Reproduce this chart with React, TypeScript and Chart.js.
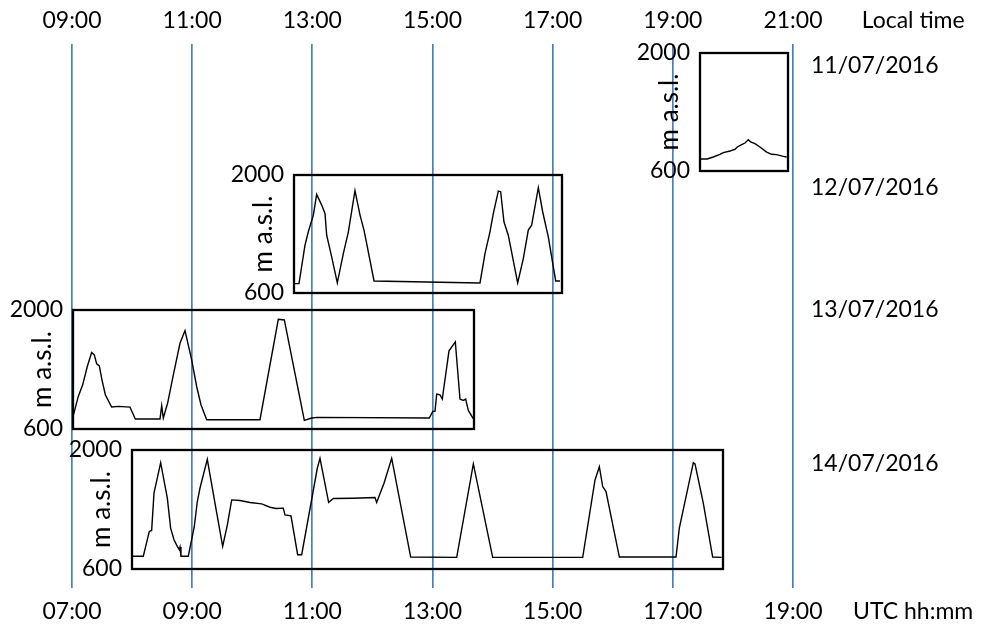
import { useEffect, useRef } from "react";
import { Chart, registerables } from "chart.js";
Chart.register(...registerables);

// ---------- data ----------
const utcTicks = [7, 9, 11, 13, 15, 17, 19];
const localOffsetHours = 2;
const axisNameTick = 21;
const utcAxisLabel = "UTC hh:mm";
const localAxisLabel = "Local time";
const altitudeTicks = [600, 2000];
const altitudeUnit = "m a.s.l.";
const dateLabels = ["11/07/2016", "12/07/2016", "13/07/2016", "14/07/2016"];

// time windows (UTC hours) of each day's inset
const window11 = [17.453, 18.918];
const window12 = [10.695, 15.156];
const window13 = [7.017, 13.691];
const window14 = [7.999, 17.835];

const flight11Time = [17.464, 17.574, 17.674, 17.785, 17.841, 17.952, 18.035, 18.074, 18.146, 18.202, 18.257, 18.296, 18.368, 18.451, 18.562, 18.646, 18.729, 18.84, 18.895];
const flight11Alt = [742, 742, 766, 798, 818, 837, 857, 885, 912, 932, 972, 944, 924, 885, 825, 798, 794, 774, 766];

const flight12Time = [10.712, 10.778, 10.878, 10.933, 11.017, 11.072, 11.156, 11.211, 11.239, 11.322, 11.416, 11.516, 11.6, 11.71, 11.794, 11.86, 11.905, 12.027, 13.791, 13.874, 13.957, 14.013, 14.096, 14.135, 14.19, 14.262, 14.418, 14.512, 14.595, 14.651, 14.762, 14.834, 14.928, 15.051, 15.123];
const flight12Alt = [711, 711, 1167, 1326, 1524, 1770, 1643, 1544, 1286, 1028, 719, 1068, 1326, 1814, 1524, 1346, 1187, 743, 719, 1068, 1326, 1544, 1810, 1802, 1445, 1286, 719, 1008, 1346, 1405, 1849, 1564, 1266, 743, 743];

const flight13Time = [7.011, 7.105, 7.178, 7.255, 7.327, 7.372, 7.411, 7.455, 7.499, 7.555, 7.66, 7.771, 7.965, 8.054, 8.465, 8.493, 8.52, 8.592, 8.687, 8.798, 8.881, 8.992, 9.075, 9.147, 9.242, 10.129, 10.434, 10.534, 10.867, 10.99, 11.083, 12.947, 13.004, 13.042, 13.07, 13.125, 13.163, 13.275, 13.38, 13.458, 13.513, 13.553, 13.596, 13.679];
const flight13Alt = [729, 983, 1120, 1335, 1499, 1472, 1366, 1343, 1179, 1003, 858, 866, 858, 717, 717, 874, 729, 905, 1237, 1609, 1758, 1413, 1100, 885, 709, 709, 1890, 1883, 702, 729, 737, 729, 807, 807, 1011, 1003, 952, 1519, 1625, 952, 936, 952, 819, 721];

const flight14Time = [7.993, 8.187, 8.287, 8.326, 8.365, 8.476, 8.587, 8.642, 8.698, 8.753, 8.786, 8.798, 8.814, 8.936, 9.036, 9.086, 9.13, 9.252, 9.38, 9.508, 9.586, 9.658, 9.796, 9.963, 10.157, 10.296, 10.395, 10.517, 10.545, 10.645, 10.756, 10.823, 11.083, 11.128, 11.272, 11.35, 11.683, 12.043, 12.071, 12.193, 12.321, 12.637, 13.403, 13.68, 14.002, 15.5, 15.705, 15.777, 15.833, 15.888, 16.11, 17.053, 17.108, 17.341, 17.369, 17.507, 17.663, 17.813];
const flight14Alt = [750, 750, 1042, 1054, 1492, 1851, 1433, 1081, 944, 866, 827, 858, 750, 750, 1100, 1394, 1550, 1890, 1374, 866, 1120, 1413, 1406, 1382, 1366, 1327, 1312, 1316, 1237, 1226, 768, 768, 1785, 1902, 1382, 1429, 1433, 1441, 1382, 1609, 1902, 741, 737, 1836, 737, 737, 1648, 1804, 1570, 1511, 741, 741, 1081, 1851, 1836, 1374, 741, 737];

const insets = [
  { window: window11, time: flight11Time, alt: flight11Alt },
  { window: window12, time: flight12Time, alt: flight12Alt },
  { window: window13, time: flight13Time, alt: flight13Alt },
  { window: window14, time: flight14Time, alt: flight14Alt },
];

// ---------- layout (pixels) ----------
const W = 982;
const H = 632;
const MAIN_SHIFT = 8; // main canvas is drawn this many px above the page top
const MAIN_EXTRA_BOTTOM = 6;
const AXIS_MAX = 21.53;
const insetTop = [53, 175, 310, 450];
const insetBottom = [171, 293, 429, 569];
const dateLabelY = [66, 188, 310, 464];
const dateLabelAt = 19.3;
const FONT = "Lato";
const GRID_BLUE = "#4a7ec4";
const PAD_L = 72;
const PAD_V = 26;
const PAD_R = 6;
const TITLE_SIZE = 26;
const TITLE_CENTER_FROM_BOX = 30;

const two = (n: number) => String(n).padStart(2, "0") + ":00";

const dateLabelPlugin = {
  id: "dateLabels",
  afterDraw(chart: any) {
    const ctx = chart.ctx;
    const x = chart.scales.x.getPixelForValue(dateLabelAt);
    ctx.save();
    ctx.font = `23px ${FONT}`;
    ctx.fillStyle = "#000";
    ctx.textAlign = "left";
    ctx.textBaseline = "middle";
    dateLabels.forEach((d, i) => ctx.fillText(d, x, dateLabelY[i] + MAIN_SHIFT));
    ctx.restore();
  },
};

const boxPlugin = {
  id: "insetBox",
  afterDatasetsDraw(chart: any) {
    const { left, top, right, bottom } = chart.chartArea;
    const ctx = chart.ctx;
    ctx.save();
    ctx.lineWidth = 2.3;
    ctx.strokeStyle = "#000";
    ctx.strokeRect(left, top, right - left, bottom - top);
    ctx.restore();
  },
};

const noSidePadding = (s: any) => {
  s.paddingLeft = 0;
  s.paddingRight = 0;
};

export default function App() {
  const mainRef = useRef<HTMLCanvasElement | null>(null);
  const insetRefs = useRef<(HTMLCanvasElement | null)[]>([]);
  const mainH = H + MAIN_SHIFT + MAIN_EXTRA_BOTTOM;

  useEffect(() => {
    const charts: Chart[] = [];
    const tickFont = { family: FONT, size: 23 };
    const allTicks = [...utcTicks, axisNameTick];

    const main = new Chart(mainRef.current as HTMLCanvasElement, {
      type: "line",
      data: { datasets: [] },
      options: {
        animation: false,
        responsive: false,
        events: [],
        layout: { padding: { left: 72, right: 37, top: 4.4, bottom: 1.9 } },
        plugins: { legend: { display: false }, tooltip: { enabled: false } },
        scales: {
          x: {
            type: "linear",
            position: "bottom",
            min: 7,
            max: AXIS_MAX,
            afterBuildTicks: (s: any) => {
              s.ticks = allTicks.map((v) => ({ value: v }));
            },
            afterFit: noSidePadding,
            ticks: {
              font: tickFont,
              color: "#000",
              padding: 10.5,
              maxRotation: 0,
              autoSkip: false,
              callback: (v: any) => (v === axisNameTick ? utcAxisLabel : two(v)),
            },
            grid: {
              color: (c: any) => (c.tick && c.tick.value <= 19 ? GRID_BLUE : "rgba(0,0,0,0)"),
              lineWidth: 1.7,
              drawTicks: false,
            },
            border: { display: false },
          },
          x2: {
            type: "linear",
            position: "top",
            min: 7,
            max: AXIS_MAX,
            afterBuildTicks: (s: any) => {
              s.ticks = allTicks.map((v) => ({ value: v }));
            },
            afterFit: noSidePadding,
            ticks: {
              font: tickFont,
              color: "#000",
              padding: 10,
              maxRotation: 0,
              autoSkip: false,
              callback: (v: any) => (v === axisNameTick ? localAxisLabel : two(v + localOffsetHours)),
            },
            grid: { display: false, drawTicks: false },
            border: { display: false },
          },
          y: { display: false, min: 0, max: 1 },
        },
      },
      plugins: [dateLabelPlugin],
    } as any);
    charts.push(main);

    insets.forEach((inset, i) => {
      const cv = insetRefs.current[i];
      if (!cv) return;
      const bl = Math.round(main.scales.x.getPixelForValue(inset.window[0]));
      const br = Math.round(main.scales.x.getPixelForValue(inset.window[1]));
      const left = bl - PAD_L;
      const top = insetTop[i] - PAD_V;
      const cw = br - left + PAD_R;
      const ch = insetBottom[i] - insetTop[i] + 2 * PAD_V;
      cv.width = cw;
      cv.height = ch;
      cv.style.left = left + "px";
      cv.style.top = top + "px";
      cv.style.width = cw + "px";
      cv.style.height = ch + "px";
      const c = new Chart(cv, {
        type: "line",
        data: {
          datasets: [
            {
              data: inset.time.map((t, k) => ({ x: t, y: inset.alt[k] })),
              borderColor: "#000",
              borderWidth: 1.4,
              pointRadius: 0,
              tension: 0,
              fill: false,
            },
          ],
        },
        options: {
          animation: false,
          responsive: false,
          events: [],
          layout: { padding: { left: 0, right: PAD_R, top: PAD_V, bottom: PAD_V } },
          plugins: { legend: { display: false }, tooltip: { enabled: false } },
          scales: {
            x: { type: "linear", min: inset.window[0], max: inset.window[1], display: false },
            y: {
              type: "linear",
              min: altitudeTicks[0],
              max: altitudeTicks[1],
              afterBuildTicks: (s: any) => {
                s.ticks = altitudeTicks.map((v) => ({ value: v }));
              },
              afterFit: (s: any) => {
                s.width = PAD_L;
              },
              ticks: { font: tickFont, color: "#000", padding: 10, callback: (v: any) => String(v) },
              grid: { display: false, drawTicks: false },
              border: { display: false },
              title: {
                display: true,
                text: altitudeUnit,
                font: { family: FONT, size: TITLE_SIZE },
                color: "#000",
                padding: { top: PAD_L - TITLE_CENTER_FROM_BOX - (TITLE_SIZE * 1.2) / 2, bottom: 0 },
              },
            },
          },
        },
        plugins: [boxPlugin],
      } as any);
      charts.push(c);
    });

    return () => charts.forEach((c) => c.destroy());
  }, []);

  return (
    <div style={{ position: "fixed", left: 0, top: 0, width: W, height: H, background: "#fff", overflow: "hidden" }}>
      <canvas
        ref={mainRef}
        width={W}
        height={mainH}
        style={{ position: "absolute", left: 0, top: -MAIN_SHIFT, width: W, height: mainH }}
      />
      {insets.map((_, i) => (
        <canvas
          key={i}
          ref={(el) => {
            insetRefs.current[i] = el;
          }}
          style={{ position: "absolute" }}
        />
      ))}
    </div>
  );
}
